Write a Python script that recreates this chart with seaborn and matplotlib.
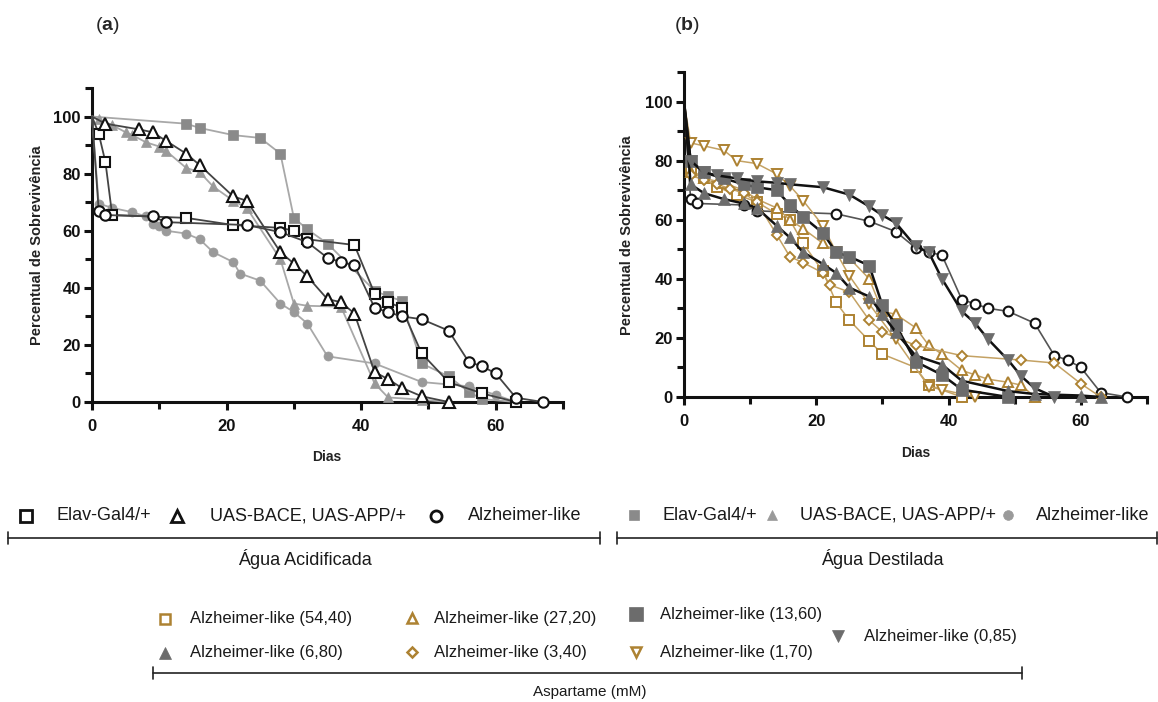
import matplotlib
matplotlib.use("Agg")
import matplotlib.pyplot as plt
import seaborn as sns
import pandas as pd
from matplotlib.lines import Line2D
from matplotlib.ticker import MultipleLocator

# ---------------- data: panel (a) ----------------
elav_ac_days = [0, 1, 2, 3, 14, 21, 28, 30, 32, 39, 42, 44, 46, 49, 53, 58, 63]
elav_ac_surv = [100, 94, 84, 65.5, 64.5, 62, 61, 60, 57, 55, 38, 35, 33, 17, 7, 3, 0]

uas_ac_days = [0, 2, 7, 9, 11, 14, 16, 21, 23, 28, 30, 32, 35, 37, 39, 42, 44, 46, 49, 53]
uas_ac_surv = [100, 97.5, 95.5, 94.5, 91.5, 87, 83, 72, 70.5, 52.5, 48.5, 44, 36, 35, 31, 10.5, 8, 5, 2, 0]

alz_ac_days = [0, 1, 2, 9, 11, 23, 28, 32, 35, 37, 39, 42, 44, 46, 49, 53, 56, 58, 60, 63, 67]
alz_ac_surv = [100, 67, 65.5, 65, 63, 62, 59.5, 56, 50.5, 49, 48, 33, 31.5, 30, 29, 25, 14, 12.5, 10, 1.5, 0]

elav_di_days = [0, 14, 16, 21, 25, 28, 30, 32, 35, 42, 44, 46, 49, 53, 56, 58, 63]
elav_di_surv = [100, 97.5, 96, 93.5, 92.5, 87, 64.5, 60.5, 55.5, 39, 37, 35.5, 13.5, 9, 3.5, 1, 0]

uas_di_days = [0, 1, 3, 5, 6, 8, 10, 11, 14, 16, 18, 21, 23, 28, 30, 32, 37, 42, 44, 49, 53]
uas_di_surv = [100, 99, 97, 94.5, 93.5, 91, 89.5, 88, 82, 80.5, 75.5, 70.5, 68, 50, 34.5, 33.7, 33.4, 6.5, 1.6, 0.8, 0]

alz_di_days = [0, 1, 3, 6, 8, 9, 10, 11, 14, 16, 18, 21, 22, 25, 28, 30, 32, 35, 42, 49, 56, 60, 63]
alz_di_surv = [100, 69.5, 68, 66.5, 65, 62.5, 61.5, 60, 59, 57, 52.5, 49, 45, 42.5, 34.5, 31.5, 27.5, 16, 13.5, 7, 5.5, 2.5, 0]

# ---------------- data: panel (b) aspartame ----------------
asp_5440_days = [0, 1, 3, 5, 8, 11, 14, 16, 18, 21, 23, 25, 28, 30, 35, 37, 42]
asp_5440_surv = [100, 77, 74, 71, 68.5, 66, 62, 60, 52, 42.5, 32, 26, 19, 14.5, 10, 4, 0]

asp_2720_days = [0, 1, 3, 6, 9, 11, 14, 16, 18, 21, 23, 25, 28, 30, 32, 35, 37, 39, 42, 44, 46, 49, 51, 53]
asp_2720_surv = [100, 76, 74, 72.5, 70, 67, 64, 60, 57, 52, 49, 47, 40, 29, 28, 23.5, 17.5, 14.5, 9, 7.5, 6, 5, 4, 0]

asp_1360_days = [0, 1, 3, 6, 9, 11, 14, 16, 18, 21, 23, 25, 28, 30, 32, 35, 39, 42, 49]
asp_1360_surv = [100, 80, 76, 74, 72, 71, 70, 65, 61, 55.5, 49, 47.5, 44.5, 31, 24.5, 12, 7.5, 2.5, 0]

asp_680_days = [0, 1, 3, 6, 9, 11, 14, 16, 18, 21, 23, 25, 28, 30, 32, 35, 39, 42, 49, 53, 60, 63]
asp_680_surv = [100, 72, 69, 67, 65.5, 64, 58, 54, 49, 45, 42, 37, 34, 28, 22, 14, 11, 5.5, 2, 1, 0.5, 0]

asp_340_days = [0, 1, 3, 5, 7, 9, 11, 14, 16, 18, 21, 22, 25, 28, 30, 35, 42, 51, 56, 60, 63]
asp_340_surv = [100, 75, 73.5, 72, 70.5, 69, 66, 55, 47.5, 45.5, 42, 38, 35.5, 26, 22, 17.5, 14, 12.5, 11.5, 4.5, 0]

asp_170_days = [0, 1, 3, 6, 8, 11, 14, 16, 18, 21, 23, 25, 28, 32, 37, 39, 44]
asp_170_surv = [100, 86, 85, 83.5, 80, 79, 75.5, 71.5, 66.5, 58, 49, 41, 31.5, 19.5, 3.5, 2.5, 0]

asp_085_days = [0, 1, 3, 5, 8, 11, 14, 16, 21, 25, 28, 30, 32, 35, 37, 39, 42, 44, 46, 49, 51, 53, 56]
asp_085_surv = [100, 80, 76, 75, 74, 73, 72.5, 72, 71, 68.5, 64.5, 61.5, 59, 51, 49, 40, 29, 25, 19.5, 12.5, 7, 3, 0]

x_ticks = [0, 20, 40, 60]
y_ticks = [0, 20, 40, 60, 80, 100]
y_label = "Percentual de Sobrevivência"
x_label = "Dias"

# ---------------- style ----------------
sns.set_theme(style="ticks")
plt.rcParams["font.family"] = ["Liberation Sans", "DejaVu Sans"]
plt.rcParams["mathtext.fontset"] = "custom"
plt.rcParams["mathtext.rm"] = "Liberation Sans"
plt.rcParams["mathtext.bf"] = "Liberation Sans:bold"

W, H = 1158, 702
fig = plt.figure(figsize=(W / 100, H / 100), dpi=100)


def fx(x):
    return x / W


def fy(y):
    return 1 - y / H


axA = fig.add_axes([fx(92), fy(402), (563 - 92) / W, (402 - 88) / H])
axB = fig.add_axes([fx(684), fy(397), (1147 - 684) / W, (397 - 72) / H])

BLACK = "#111111"
DARKLINE = "#444444"
GRAYM = "#9a9a9a"
GRAYSQ = "#8a8a8a"
GRAYLINE = "#a8a8a8"
GOLD = "#ad8232"
GOLDLINE = "#c4a264"
DGRAY = "#6c6c6c"


def series(ax, days, surv, marker, mfc, mec, lc, ms, lw, mew, z):
    df = pd.DataFrame({"d": days, "s": surv})
    sns.lineplot(data=df, x="d", y="s", ax=ax, color=lc, linewidth=lw,
                 marker=marker, markersize=ms, markerfacecolor=mfc,
                 markeredgecolor=mec, markeredgewidth=mew,
                 markevery=list(range(1, len(days))),
                 estimator=None, sort=False, zorder=z, clip_on=False)


# panel (a)
series(axA, elav_di_days, elav_di_surv, "s", GRAYSQ, GRAYSQ, GRAYLINE, 7, 1.3, 0.5, 3)
series(axA, uas_di_days, uas_di_surv, "^", GRAYM, GRAYM, GRAYLINE, 6.5, 1.3, 0.5, 3)
series(axA, alz_di_days, alz_di_surv, "o", GRAYM, GRAYM, GRAYLINE, 6.5, 1.3, 0.5, 3)
series(axA, elav_ac_days, elav_ac_surv, "s", "white", BLACK, DARKLINE, 7.5, 1.3, 1.5, 4)
series(axA, uas_ac_days, uas_ac_surv, "^", "white", BLACK, DARKLINE, 8, 1.3, 1.5, 4)
series(axA, alz_ac_days, alz_ac_surv, "o", "white", BLACK, DARKLINE, 7.5, 1.3, 1.5, 4)

# panel (b)
series(axB, alz_ac_days, alz_ac_surv, "o", "white", BLACK, "#555555", 7, 1.2, 1.5, 3)
series(axB, asp_5440_days, asp_5440_surv, "s", "white", GOLD, GOLDLINE, 7, 1.1, 1.4, 4)
series(axB, asp_2720_days, asp_2720_surv, "^", "white", GOLD, GOLDLINE, 7.5, 1.1, 1.4, 4)
series(axB, asp_340_days, asp_340_surv, "D", "white", GOLD, GOLDLINE, 5.5, 1.1, 1.4, 4)
series(axB, asp_170_days, asp_170_surv, "v", "white", GOLD, GOLDLINE, 7.5, 1.1, 1.4, 4)
series(axB, asp_1360_days, asp_1360_surv, "s", DGRAY, DGRAY, BLACK, 8, 1.8, 0.5, 5)
series(axB, asp_680_days, asp_680_surv, "^", DGRAY, DGRAY, BLACK, 8, 1.8, 0.5, 5)
series(axB, asp_085_days, asp_085_surv, "v", DGRAY, DGRAY, BLACK, 8.5, 1.8, 0.5, 5)

for ax in (axA, axB):
    ax.set_xlim(0, 70)
    ax.set_ylim(0, 110)
    ax.set_xticks(x_ticks)
    ax.set_yticks(y_ticks)
    ax.xaxis.set_minor_locator(MultipleLocator(10))
    ax.yaxis.set_minor_locator(MultipleLocator(10))
    ax.set_xlabel("")
    ax.set_ylabel("")
    sns.despine(ax=ax)
    for sp in ("left", "bottom"):
        ax.spines[sp].set_linewidth(2.2)
        ax.spines[sp].set_color(BLACK)
        ax.spines[sp].set_zorder(2)
    ax.tick_params(which="major", length=6, width=2.2, color=BLACK, pad=2,
                   labelsize=12, labelcolor=BLACK)
    ax.tick_params(axis="x", which="major", pad=6)
    ax.tick_params(which="minor", length=5, width=2.2, color=BLACK)
    for lab in ax.get_xticklabels() + ax.get_yticklabels():
        lab.set_fontweight("bold")

fig.text(fx(37), fy(245), y_label, rotation=90, ha="center", va="center",
         fontsize=10.5, fontweight="bold", color="#222222")
fig.text(fx(627), fy(235), y_label, rotation=90, ha="center", va="center",
         fontsize=10.5, fontweight="bold", color="#222222")
fig.text(fx(327), fy(457), x_label, ha="center", va="center", fontsize=10,
         fontweight="bold", color="#222222")
fig.text(fx(916), fy(453), x_label, ha="center", va="center", fontsize=10,
         fontweight="bold", color="#222222")

fig.text(fx(107), fy(26), r"($\mathbf{a}$)", ha="center", va="center", fontsize=14)
fig.text(fx(687), fy(26), r"($\mathbf{b}$)", ha="center", va="center", fontsize=14)


# ---------------- legends ----------------
def key(x, y, marker, mfc, mec, ms, mew=1.6):
    fig.add_artist(Line2D([fx(x)], [fy(y)], marker=marker, markersize=ms,
                          markerfacecolor=mfc, markeredgecolor=mec,
                          markeredgewidth=mew, linestyle="none",
                          transform=fig.transFigure))


def label(x, y, s, size):
    fig.text(fx(x), fy(y), s, ha="left", va="center", fontsize=size, color="#1a1a1a")


def bracket(x0, x1, y):
    fig.add_artist(Line2D([fx(x0), fx(x1)], [fy(y), fy(y)], color="#222222",
                          lw=1.2, transform=fig.transFigure))
    for xx in (x0, x1):
        fig.add_artist(Line2D([fx(xx), fx(xx)], [fy(y - 6), fy(y + 6)], color="#222222",
                              lw=1.2, transform=fig.transFigure))


names = ["Elav-Gal4/+", "UAS-BACE, UAS-APP/+", "Alzheimer-like"]

# acidified water
key(26, 516, "s", "white", BLACK, 8, 2)
label(57, 516, names[0], 13)
key(177, 516, "^", "white", BLACK, 8.5, 2)
label(210, 516, names[1], 13)
key(436, 516, "o", "white", BLACK, 8, 2)
label(468, 516, names[2], 13)
bracket(8, 600, 538)
fig.text(fx(305), fy(559), "Água Acidificada", ha="center", va="center", fontsize=13, color="#1a1a1a")

# distilled water
key(634, 515, "s", GRAYSQ, GRAYSQ, 7, 0.5)
label(662, 515, names[0], 13)
key(772, 515, "^", GRAYM, GRAYM, 7, 0.5)
label(800, 515, names[1], 13)
key(1008, 515, "o", GRAYM, GRAYM, 7, 0.5)
label(1036, 515, names[2], 13)
bracket(617, 1157, 538)
fig.text(fx(882), fy(559), "Água Destilada", ha="center", va="center", fontsize=13, color="#1a1a1a")

# aspartame
key(165, 619, "s", "white", GOLD, 7, 1.8)
label(190, 619, "Alzheimer-like (54,40)", 12)
key(412, 618, "^", "white", GOLD, 7.5, 1.8)
label(434, 618, "Alzheimer-like (27,20)", 12)
key(636, 614, "s", DGRAY, DGRAY, 10, 0.5)
label(660, 614, "Alzheimer-like (13,60)", 12)
key(165, 653, "^", DGRAY, DGRAY, 9, 0.5)
label(190, 653, "Alzheimer-like (6,80)", 12)
key(412, 652, "D", "white", GOLD, 5.5, 1.8)
label(434, 652, "Alzheimer-like (3,40)", 12)
key(636, 652, "v", "white", GOLD, 7.5, 1.8)
label(660, 652, "Alzheimer-like (1,70)", 12)
key(838, 636, "v", DGRAY, DGRAY, 9, 0.5)
label(864, 636, "Alzheimer-like (0,85)", 12)
bracket(153, 1022, 673)
fig.text(fx(590), fy(692), "Aspartame (mM)", ha="center", va="center", fontsize=11, color="#1a1a1a")

fig.savefig("out.png", dpi=100, facecolor="white")
